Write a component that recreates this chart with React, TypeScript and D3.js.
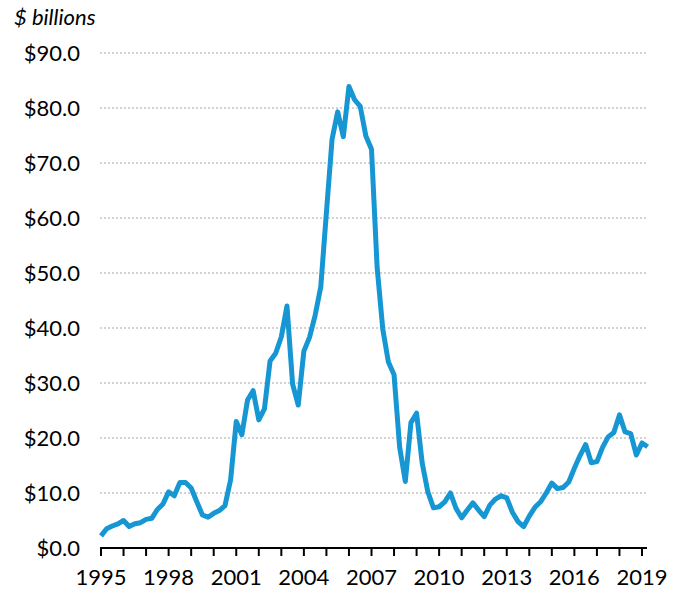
import React, { useEffect, useRef } from 'react';
import * as d3 from 'd3';

// quarterly values, 1995 Q1 .. 2019 Q2 ($ billions)
const startYear = 1995;
const values = [
  2.2, 3.5, 4.0, 4.4,
  5.0, 3.9, 4.4, 4.6,
  5.2, 5.4, 7.0, 8.0,
  10.2, 9.5, 11.9, 11.9,
  10.9, 8.4, 6.0, 5.6,
  6.3, 6.8, 7.7, 12.4,
  23.0, 20.6, 26.9, 28.6,
  23.3, 25.3, 34.0, 35.4,
  38.4, 44.0, 29.8, 26.0,
  35.8, 38.3, 42.3, 47.5,
  61.0, 74.3, 79.3, 74.8,
  83.9, 81.5, 80.3, 74.9,
  72.5, 51.0, 39.8, 33.8,
  31.5, 18.3, 12.1, 22.8,
  24.5, 15.4, 10.2, 7.3,
  7.5, 8.4, 10.0, 7.2,
  5.5, 6.9, 8.2, 6.9,
  5.7, 7.8, 8.9, 9.5,
  9.1, 6.5, 4.8, 3.9,
  5.8, 7.4, 8.4, 10.0,
  11.8, 10.8, 11.0, 12.0,
  14.5, 16.8, 18.8, 15.5,
  15.7, 18.3, 20.2, 21.0,
  24.2, 21.1, 20.8, 16.9,
  19.1, 18.4,
];
const yTicks = [0, 10, 20, 30, 40, 50, 60, 70, 80, 90];
const xTickYears = d3.range(1995, 2020);
const xLabelYears = [1995, 1998, 2001, 2004, 2007, 2010, 2013, 2016, 2019];

const App = () => {
  const chartRef = useRef<SVGSVGElement | null>(null);

  useEffect(() => {
    const width = 681;
    const height = 590;
    const font = 'Lato, "Open Sans", sans-serif';

    const svg = d3.select(chartRef.current);
    svg.selectAll('*').remove();

    const x = d3.scaleLinear().domain([1995, 2019]).range([101, 642]);
    const y = d3.scaleLinear().domain([0, 90]).range([548, 53]);

    // dotted gridlines
    svg.append('g')
      .selectAll('line')
      .data(yTicks.filter(d => d > 0))
      .enter().append('line')
      .attr('x1', 100)
      .attr('x2', 647)
      .attr('y1', d => y(d))
      .attr('y2', d => y(d))
      .attr('stroke', '#d2d2d2')
      .attr('stroke-width', 2)
      .attr('stroke-dasharray', '2,2');

    // y labels
    svg.append('g')
      .selectAll('text')
      .data(yTicks)
      .enter().append('text')
      .attr('x', 80)
      .attr('y', d => y(d))
      .attr('dy', '0.36em')
      .attr('text-anchor', 'end')
      .style('font-family', font)
      .style('font-size', '22px')
      .attr('fill', '#000')
      .text(d => '$' + d.toFixed(1));

    svg.append('text')
      .attr('x', 14)
      .attr('y', 25)
      .style('font-family', font)
      .style('font-size', '22px')
      .style('font-style', 'italic')
      .attr('fill', '#000')
      .text('$ billions');

    // x axis
    const axis = svg.append('g');
    axis.append('line')
      .attr('x1', 100)
      .attr('x2', 647)
      .attr('y1', 548)
      .attr('y2', 548)
      .attr('stroke', '#000')
      .attr('stroke-width', 2);

    axis.selectAll('.tick')
      .data(xTickYears)
      .enter().append('line')
      .attr('class', 'tick')
      .attr('x1', d => x(d))
      .attr('x2', d => x(d))
      .attr('y1', 548)
      .attr('y2', 556)
      .attr('stroke', '#000')
      .attr('stroke-width', 2);

    axis.selectAll('.lbl')
      .data(xLabelYears)
      .enter().append('text')
      .attr('class', 'lbl')
      .attr('x', d => x(d))
      .attr('y', 585)
      .attr('text-anchor', 'middle')
      .style('font-family', font)
      .style('font-size', '22px')
      .attr('fill', '#000')
      .text(d => d);

    const line = d3.line<number>()
      .x((d, i) => x(startYear + i / 4))
      .y(d => y(d));

    svg.append('path')
      .datum(values)
      .attr('d', line)
      .attr('fill', 'none')
      .attr('stroke', '#1696d2')
      .attr('stroke-width', 5)
      .attr('stroke-linejoin', 'round')
      .attr('stroke-linecap', 'butt');

    svg.attr('width', width).attr('height', height);
  }, []);

  return (
    <svg
      ref={chartRef}
      width={681}
      height={590}
      style={{ position: 'absolute', left: 0, top: 0, display: 'block', background: '#fff' }}
    />
  );
};

export default App;
